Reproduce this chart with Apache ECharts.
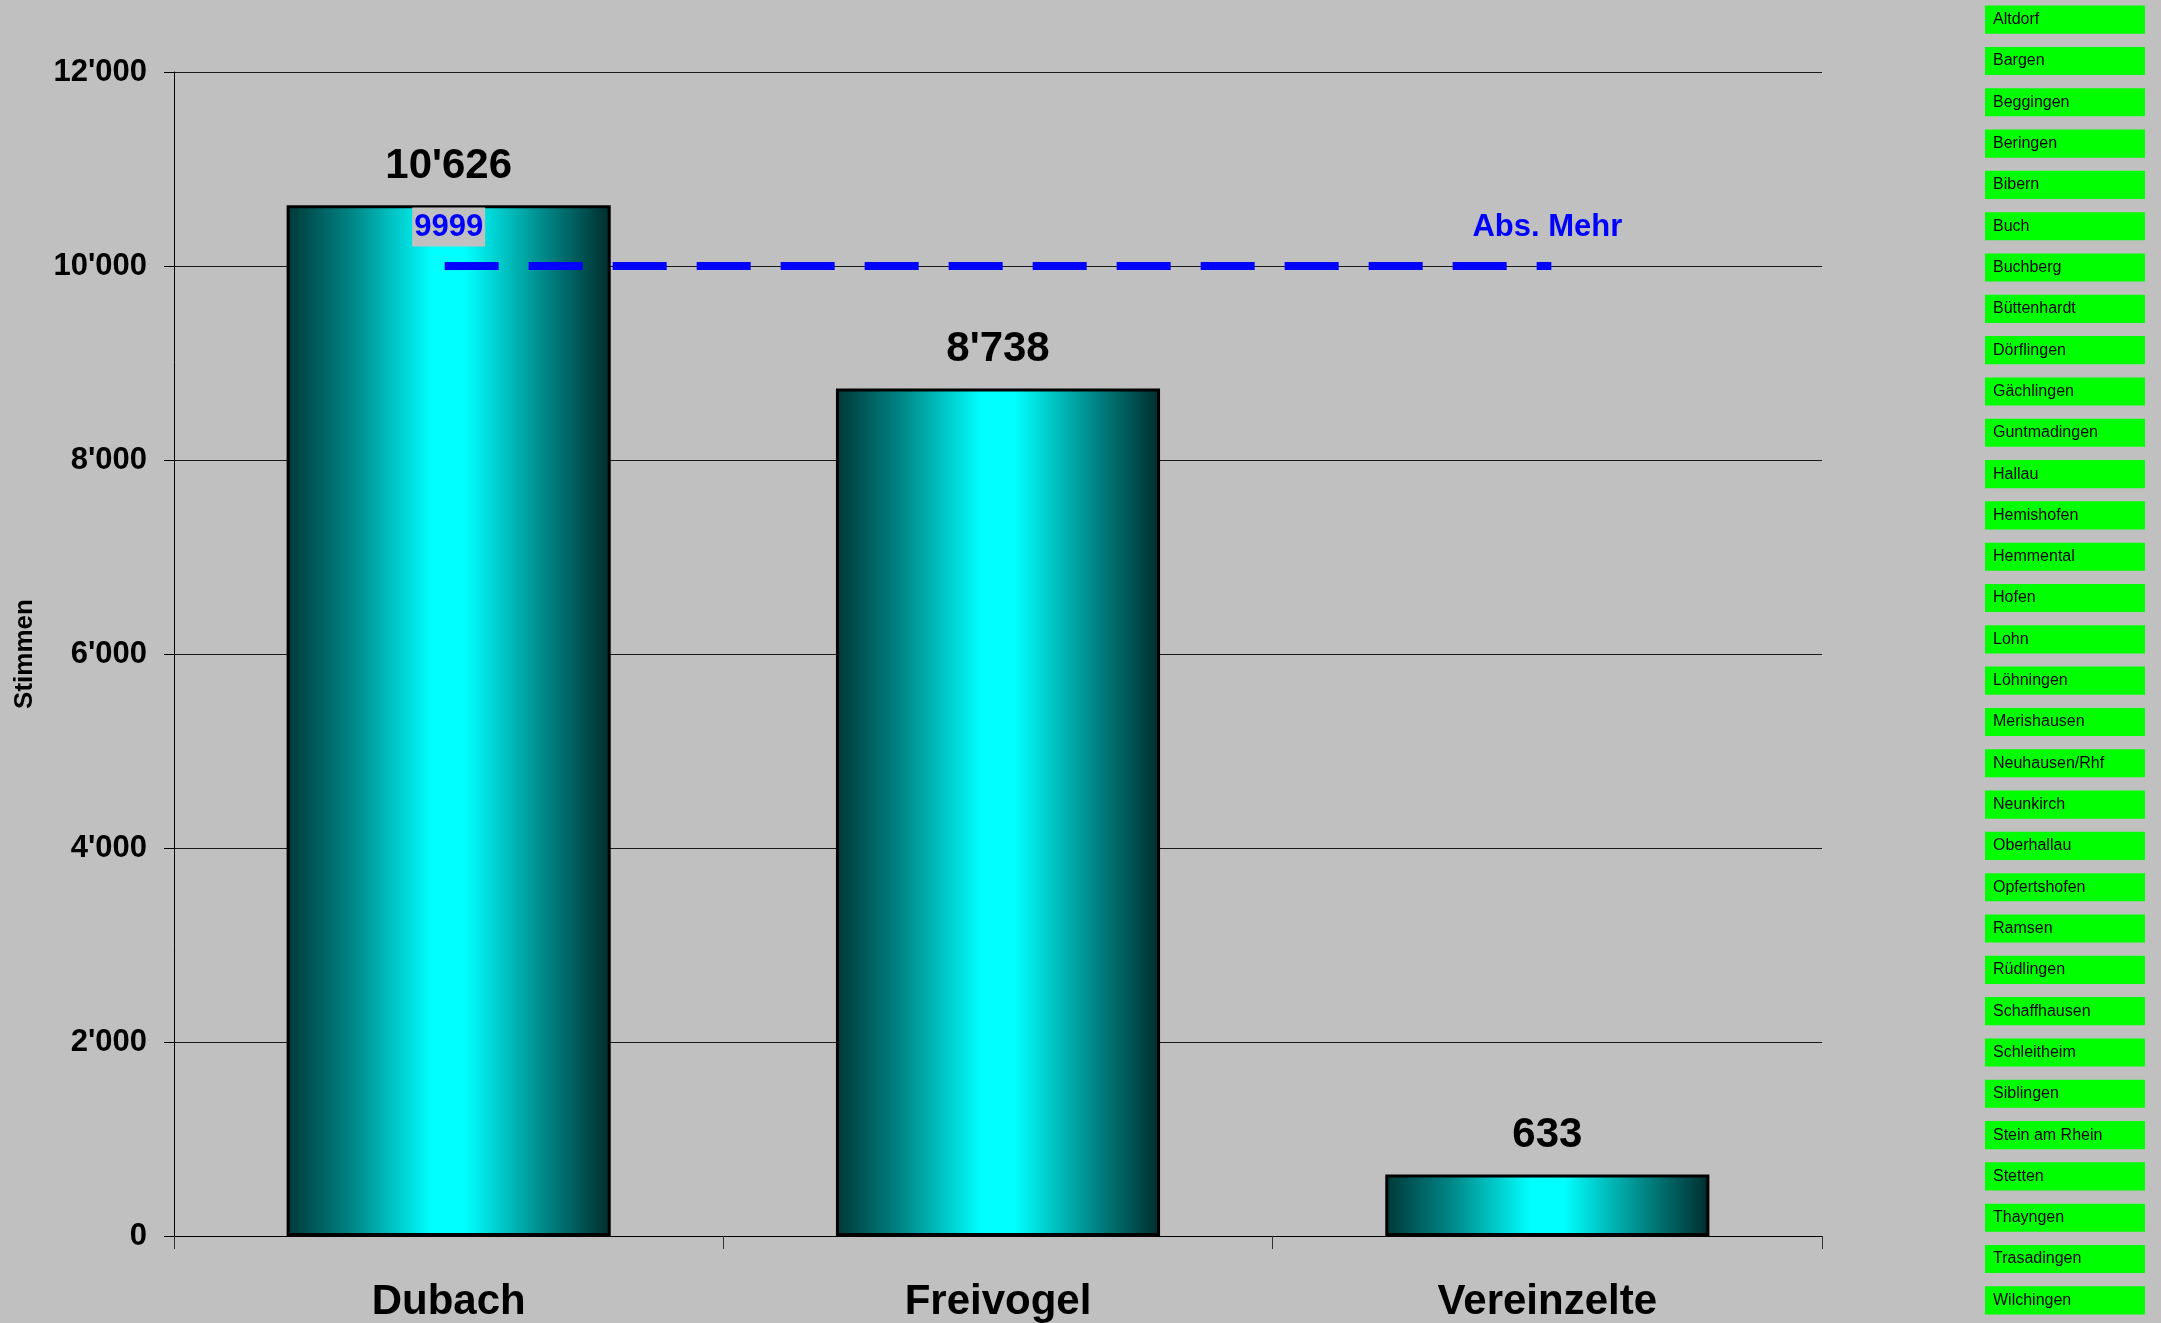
<!DOCTYPE html>
<html>
<head>
<meta charset="utf-8">
<script src="https://cdn.jsdelivr.net/npm/echarts@6/dist/echarts.min.js"></script>
<style>
html,body{margin:0;padding:0;background:#c0c0c0;}
#chart{width:2161px;height:1323px;}
</style>
</head>
<body>
<div id="chart"></div>
<script>
const candidates = ["Dubach", "Freivogel", "Vereinzelte"];
const votes = [10626, 8738, 633];
const absMehr = [9999, 9999, 9999];
const absMehrLabels = ["9999", "", "Abs. Mehr"];
const yTicks = [0, 2000, 4000, 6000, 8000, 10000, 12000];
const municipalities = ["Altdorf","Bargen","Beggingen","Beringen","Bibern","Buch","Buchberg","Büttenhardt","Dörflingen","Gächlingen","Guntmadingen","Hallau","Hemishofen","Hemmental","Hofen","Lohn","Löhningen","Merishausen","Neuhausen/Rhf","Neunkirch","Oberhallau","Opfertshofen","Ramsen","Rüdlingen","Schaffhausen","Schleitheim","Siblingen","Stein am Rhein","Stetten","Thayngen","Trasadingen","Wilchingen"];
const boxWidth = [1,1,1,1,1,1,1,1,1,1,1,1,1,1,1,1,1,1,1,1,1,1,1,1,1,1,1,1,1,1,1,1];

function fmt(v){ return String(v).replace(/\B(?=(\d{3})+(?!\d))/g, "'"); }

const FONT = "'Liberation Sans', Arial, sans-serif";
const chart = echarts.init(document.getElementById('chart'), null, {renderer:'canvas'});

const barGradient = new echarts.graphic.LinearGradient(0, 0, 1, 0, [
  {offset: 0, color: '#003838'},
  {offset: 0.2, color: '#008585'},
  {offset: 0.45, color: '#00ffff'},
  {offset: 0.55, color: '#00ffff'},
  {offset: 0.8, color: '#008585'},
  {offset: 1, color: '#002c2c'}
]);

chart.setOption({
  backgroundColor: '#c0c0c0',
  animation: false,
  tooltip: {show: false},
  grid: [
    {left: 174, right: 339, top: 72, bottom: 87, containLabel: false, outerBoundsMode: 'none'},
    {left: 1985, width: 160, top: -1, height: 1322, containLabel: false, outerBoundsMode: 'none'}
  ],
  xAxis: [
    {
      type: 'category', gridIndex: 0, data: candidates,
      axisLine: {show: true, lineStyle: {color: '#000', width: 1}},
      axisTick: {show: true, alignWithLabel: false, length: 13, lineStyle: {color: '#333', width: 1}},
      axisLabel: {color: '#000', fontFamily: FONT, fontWeight: 'bold', fontSize: 42, margin: 45},
      splitLine: {show: false}
    },
    {type: 'value', gridIndex: 1, min: 0, max: 1, show: false}
  ],
  yAxis: [
    {
      type: 'value', gridIndex: 0, min: yTicks[0], max: yTicks[yTicks.length-1], interval: yTicks[1]-yTicks[0],
      name: 'Stimmen', nameLocation: 'middle', nameGap: 136, nameRotate: 90,
      nameTextStyle: {color: '#000', fontFamily: FONT, fontWeight: 'bold', fontSize: 26},
      axisLine: {show: true, lineStyle: {color: '#000', width: 1}},
      axisTick: {show: true, length: 10, lineStyle: {color: '#000', width: 1}},
      axisLabel: {color: '#000', fontFamily: FONT, fontWeight: 'bold', fontSize: 31, margin: 27, formatter: fmt},
      splitLine: {show: true, lineStyle: {color: '#1a1a1a', width: 1}}
    },
    {type: 'category', gridIndex: 1, data: municipalities, inverse: true, show: false}
  ],
  series: [
    {
      type: 'bar', xAxisIndex: 0, yAxisIndex: 0, data: votes,
      barCategoryGap: '41%',
      itemStyle: {color: barGradient, borderColor: '#000', borderWidth: 3},
      label: {show: true, position: 'top', distance: 18, color: '#000', fontFamily: FONT, fontWeight: 'bold', fontSize: 42,
        formatter: p => fmt(p.value)},
      z: 2
    },
    {
      type: 'line', xAxisIndex: 0, yAxisIndex: 0,
      data: absMehr.map((v, i) => ({value: v, label: {formatter: absMehrLabels[i]}})),
      symbol: 'circle', symbolSize: 1, showSymbol: true,
      itemStyle: {color: '#0000ff'},
      lineStyle: {color: '#0000ff', width: 8, type: [46, 38], cap: 'square'},
      label: {show: true, position: 'top', distance: 19, color: '#0000ff', fontFamily: FONT, fontWeight: 'bold', fontSize: 31,
        backgroundColor: '#c0c0c0', padding: [4, 2, 4, 2]},
      z: 5
    },
    {
      type: 'bar', xAxisIndex: 1, yAxisIndex: 1, data: boxWidth,
      barCategoryGap: '32%',
      itemStyle: {color: '#00ff00'},
      label: {show: true, position: 'insideLeft', distance: 8, color: '#000', fontFamily: FONT, fontSize: 16,
        formatter: p => p.name},
      silent: true
    }
  ]
});
</script>
</body>
</html>
